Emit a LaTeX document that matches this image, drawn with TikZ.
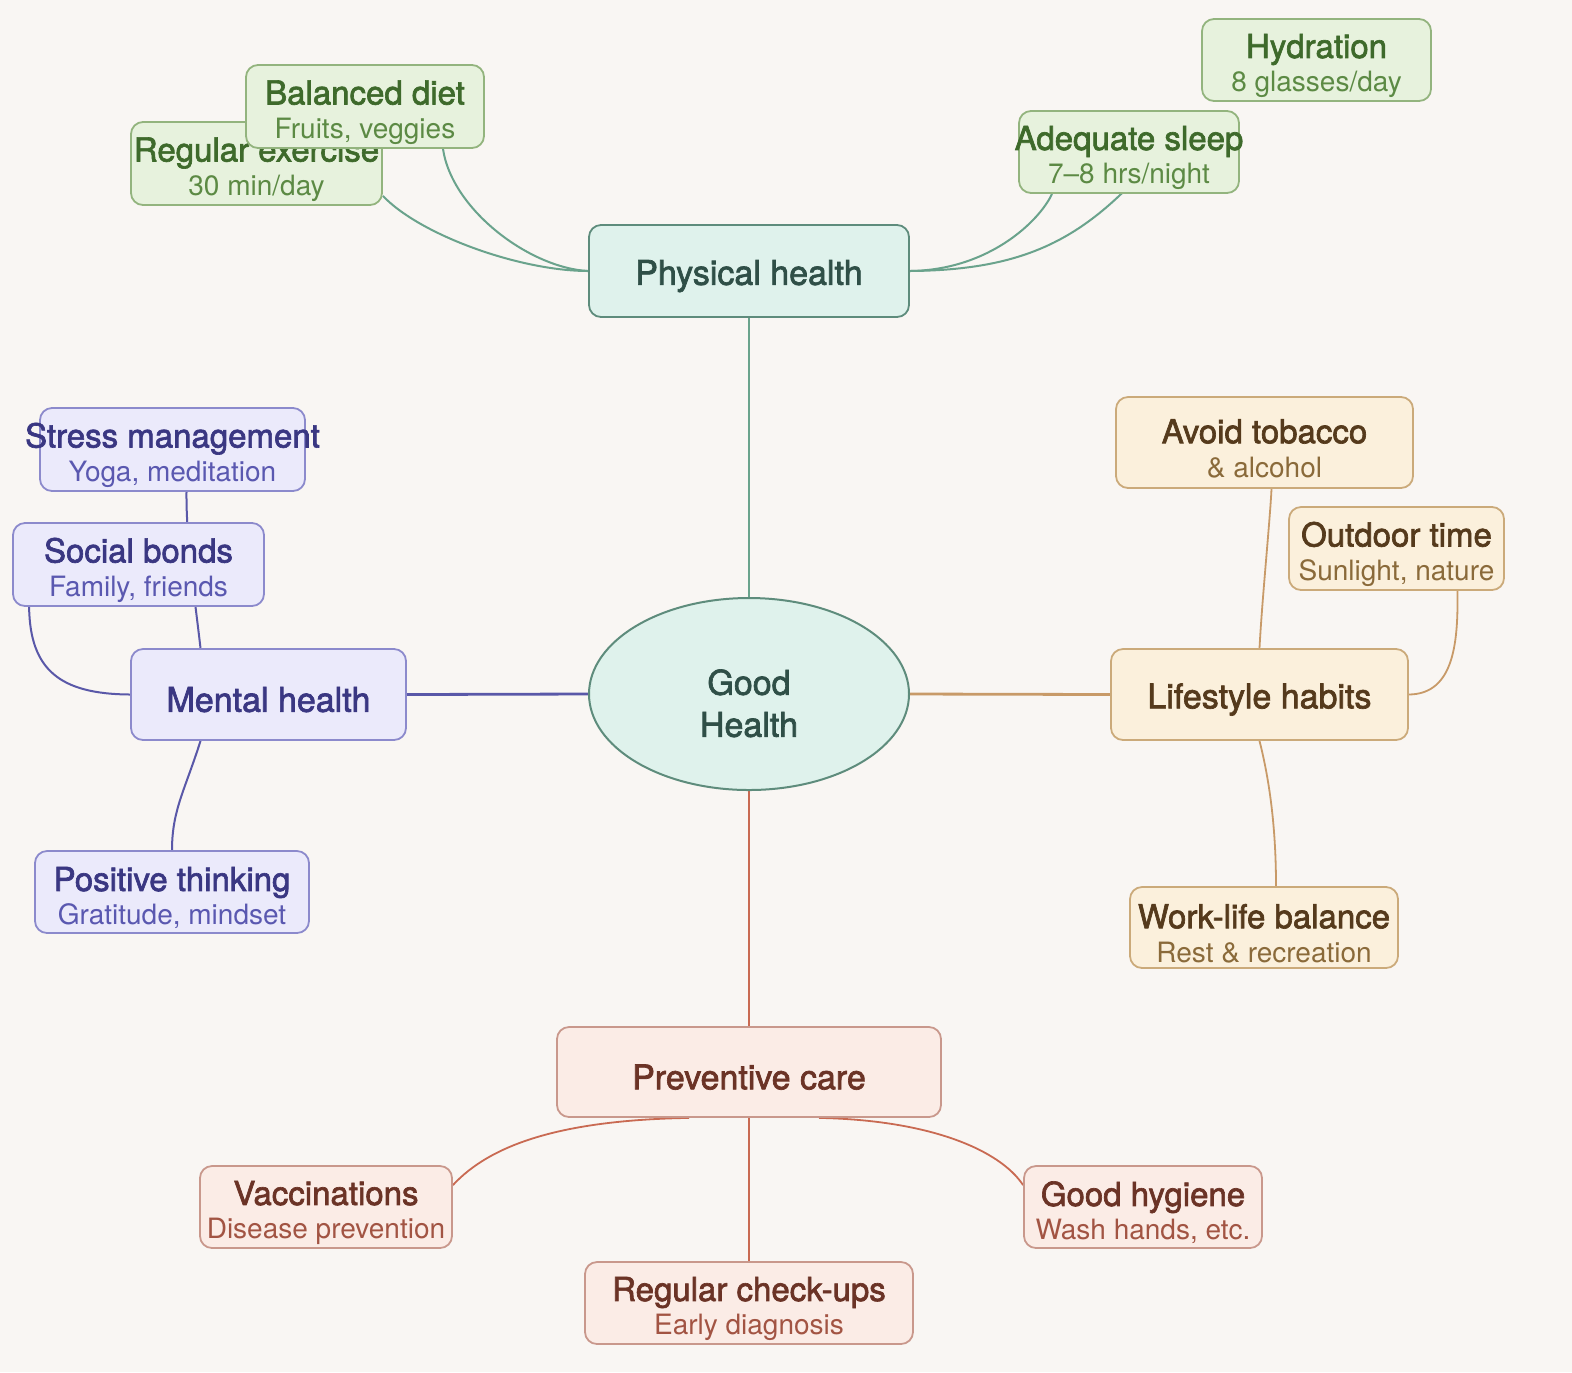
\documentclass[tikz,border=0pt]{standalone}
\usepackage{fontspec}
\setmainfont{TeX Gyre Heros}
\newfontfamily\tfont{TeX Gyre Heros}[FakeBold=2]
\usetikzlibrary{shapes.geometric,calc}
\definecolor{bgc}{HTML}{F9F6F3}
% green
\definecolor{gfill}{HTML}{E7F2DD}\definecolor{gline}{HTML}{93B47E}
\definecolor{gtit}{HTML}{3E6A2B}\definecolor{gsub}{HTML}{5C8A44}
% teal
\definecolor{tfill}{HTML}{DFF2EC}\definecolor{tline}{HTML}{5E8C7C}
\definecolor{ttit}{HTML}{2F4F47}\definecolor{tedge}{HTML}{6AA38C}
% purple
\definecolor{pfill}{HTML}{EBEAFB}\definecolor{pline}{HTML}{8C8ACC}
\definecolor{ptit}{HTML}{3A3782}\definecolor{psub}{HTML}{5A58B0}
\definecolor{pedge}{HTML}{5A58A8}
% orange
\definecolor{ofill}{HTML}{FBF0DC}\definecolor{oline}{HTML}{CBAA7A}
\definecolor{otit}{HTML}{553A1C}\definecolor{osub}{HTML}{8A6A3A}
\definecolor{oedge}{HTML}{C89A68}
% red
\definecolor{rfill}{HTML}{FBECE6}\definecolor{rline}{HTML}{C9988C}
\definecolor{rtit}{HTML}{6B3326}\definecolor{rsub}{HTML}{A25443}
\definecolor{redge}{HTML}{C96A52}
\pgfdeclarelayer{back}\pgfdeclarelayer{edges}
\pgfsetlayers{back,edges,main}
\newcommand\twol[4]{\rule{0pt}{18pt}\makebox[0pt]{\color{#1}\tfont\fontsize{16.5pt}{17pt}\selectfont #2}\\\makebox[0pt]{\color{#3}\fontsize{14pt}{17pt}\selectfont #4}}
\newcommand\onel[2]{\rule{0pt}{17.5pt}\makebox[0pt]{\color{#1}\tfont\fontsize{17pt}{20pt}\selectfont #2}}
\tikzset{
  sbox/.style={draw, rounded corners=6pt, line width=0.9pt, align=center, inner sep=0pt, font=\fontsize{14pt}{17pt}\selectfont},
  gbox/.style={sbox, draw=gline, fill=gfill},
  tbox/.style={sbox, draw=tline, fill=tfill},
  pbox/.style={sbox, draw=pline, fill=pfill},
  obox/.style={sbox, draw=oline, fill=ofill},
  rbox/.style={sbox, draw=rline, fill=rfill},
  tedg/.style={draw=tedge, line width=1pt},
  pedg/.style={draw=pedge, line width=1pt},
  oedg/.style={draw=oedge, line width=0.9pt},
  redg/.style={draw=redge, line width=0.9pt},
}
\begin{document}
\begin{tikzpicture}[x=0.5pt,y=-0.5pt]
\begin{pgfonlayer}{back}
\fill[bgc] (0,0) rectangle (1572,1372);
\end{pgfonlayer}
\useasboundingbox (0,0) rectangle (1572,1372);
% central
\node[ellipse, draw=tline, fill=tfill, line width=1pt, minimum width=160pt, minimum height=96pt, inner sep=0pt, align=center, text=ttit, font=\tfont\fontsize{17pt}{21pt}\selectfont] (good) at (749,694)
  {\rule{0pt}{22pt}Good\\Health};
\node[tbox, minimum width=160pt, minimum height=46pt] (phys) at (749,271) {\onel{ttit}{Physical health}};
\node[pbox, minimum width=137.5pt, minimum height=45.5pt] (mental) at (268.5,694.5) {\onel{ptit}{Mental health}};
\node[obox, minimum width=148.5pt, minimum height=45.5pt] (life) at (1259.5,694.5) {\onel{otit}{Lifestyle habits}};
\node[rbox, minimum width=192pt, minimum height=45pt] (prev) at (749,1072) {\onel{rtit}{Preventive care}};
% physical
\node[gbox, minimum width=125.5pt, minimum height=41.5pt] (ex) at (256.5,163.5) {\twol{gtit}{Regular exercise}{gsub}{30 min/day}};
\node[gbox, minimum width=119pt, minimum height=41.5pt] (diet) at (365,106.5) {\twol{gtit}{Balanced diet}{gsub}{Fruits, veggies}};
\node[gbox, minimum width=114.5pt, minimum height=41pt] (hyd) at (1316.5,60) {\twol{gtit}{Hydration}{gsub}{8 glasses/day}};
\node[gbox, minimum width=110pt, minimum height=41pt] (sleep) at (1129,152) {\twol{gtit}{Adequate sleep}{gsub}{7--8 hrs/night}};
% mental
\node[pbox, minimum width=132.5pt, minimum height=41.5pt] (stress) at (172.5,449.5) {\twol{ptit}{Stress management}{psub}{Yoga, meditation}};
\node[pbox, minimum width=125.5pt, minimum height=41.5pt] (social) at (138.5,564.5) {\twol{ptit}{Social bonds}{psub}{Family, friends}};
\node[pbox, minimum width=137pt, minimum height=41pt] (pos) at (172,892) {\twol{ptit}{Positive thinking}{psub}{Gratitude, mindset}};
% lifestyle
\node[obox, minimum width=148.5pt, minimum height=45.5pt] (tob) at (1264.5,442.5) {\twol{otit}{Avoid tobacco}{osub}{\& alcohol}};
\node[obox, minimum width=107.5pt, minimum height=41.5pt] (out) at (1396.5,548.5) {\twol{otit}{Outdoor time}{osub}{Sunlight, nature}};
\node[obox, minimum width=134pt, minimum height=40.5pt] (work) at (1264,927.5) {\twol{otit}{Work-life balance}{osub}{Rest \& recreation}};
% preventive
\node[rbox, minimum width=126pt, minimum height=41pt] (vac) at (326,1207) {\twol{rtit}{Vaccinations}{rsub}{Disease prevention}};
\node[rbox, minimum width=119pt, minimum height=41pt] (hyg) at (1143,1207) {\twol{rtit}{Good hygiene}{rsub}{Wash hands, etc.}};
\node[rbox, minimum width=164pt, minimum height=41pt] (chk) at (749,1303) {\twol{rtit}{Regular check-ups}{rsub}{Early diagnosis}};
\coordinate (hydend) at ($(sleep.center)+(40,-10)$);
\begin{pgfonlayer}{edges}
\draw[tedg, line width=1.4pt] (phys.south) -- (good.north);
\draw[pedg, line width=1.4pt] (good.west) -- (mental.east);
\draw[oedg, line width=1.4pt] (good.east) -- (life.west);
\draw[redg, line width=1.4pt] (good.south) -- (prev.north);
% physical branch
\draw[tedg] (phys.west) .. controls (520,271) and (420,235) .. ($(ex.south east)+(0,-10)$);
\draw[tedg] (phys.west) .. controls (530,268) and (452,210) .. ($(diet.south)+(78,0)$);
\draw[tedg] (phys.east) .. controls (990,270) and (1040,220) .. ($(sleep.south)+(-77,0)$);
\draw[tedg] (phys.east) .. controls (1040,270) and (1095,230) .. (hydend);
% mental branch
\draw[pedg] ($(mental.north)+(-68,0)$) .. controls (195,600) and (186,540) .. ($(stress.south)+(14,0)$);
\draw[pedg] (mental.west) .. controls (60,694) and (30,670) .. ($(social.south west)+(17,0)$);
\draw[pedg] ($(mental.south)+(-68,0)$) .. controls (185,790) and (172,810) .. (pos.north);
% lifestyle branch
\draw[oedg] (life.north) .. controls (1262,600) and (1270,520) .. ($(tob.south)+(7,0)$);
\draw[oedg] (life.east) .. controls (1455,694) and (1458,640) .. ($(out.south)+(61,0)$);
\draw[oedg] (life.south) .. controls (1272,790) and (1276,840) .. ($(work.north)+(12,0)$);
% preventive branch
\draw[redg] (prev.south) -- (chk.north);
\draw[redg] ($(prev.south)+(-60,0)$) .. controls (560,1120) and (490,1145) .. ($(vac.north east)+(0,20)$);
\draw[redg] ($(prev.south)+(70,0)$) .. controls (930,1120) and (1000,1150) .. ($(hyg.north west)+(0,20)$);
\end{pgfonlayer}
\end{tikzpicture}
\end{document}
